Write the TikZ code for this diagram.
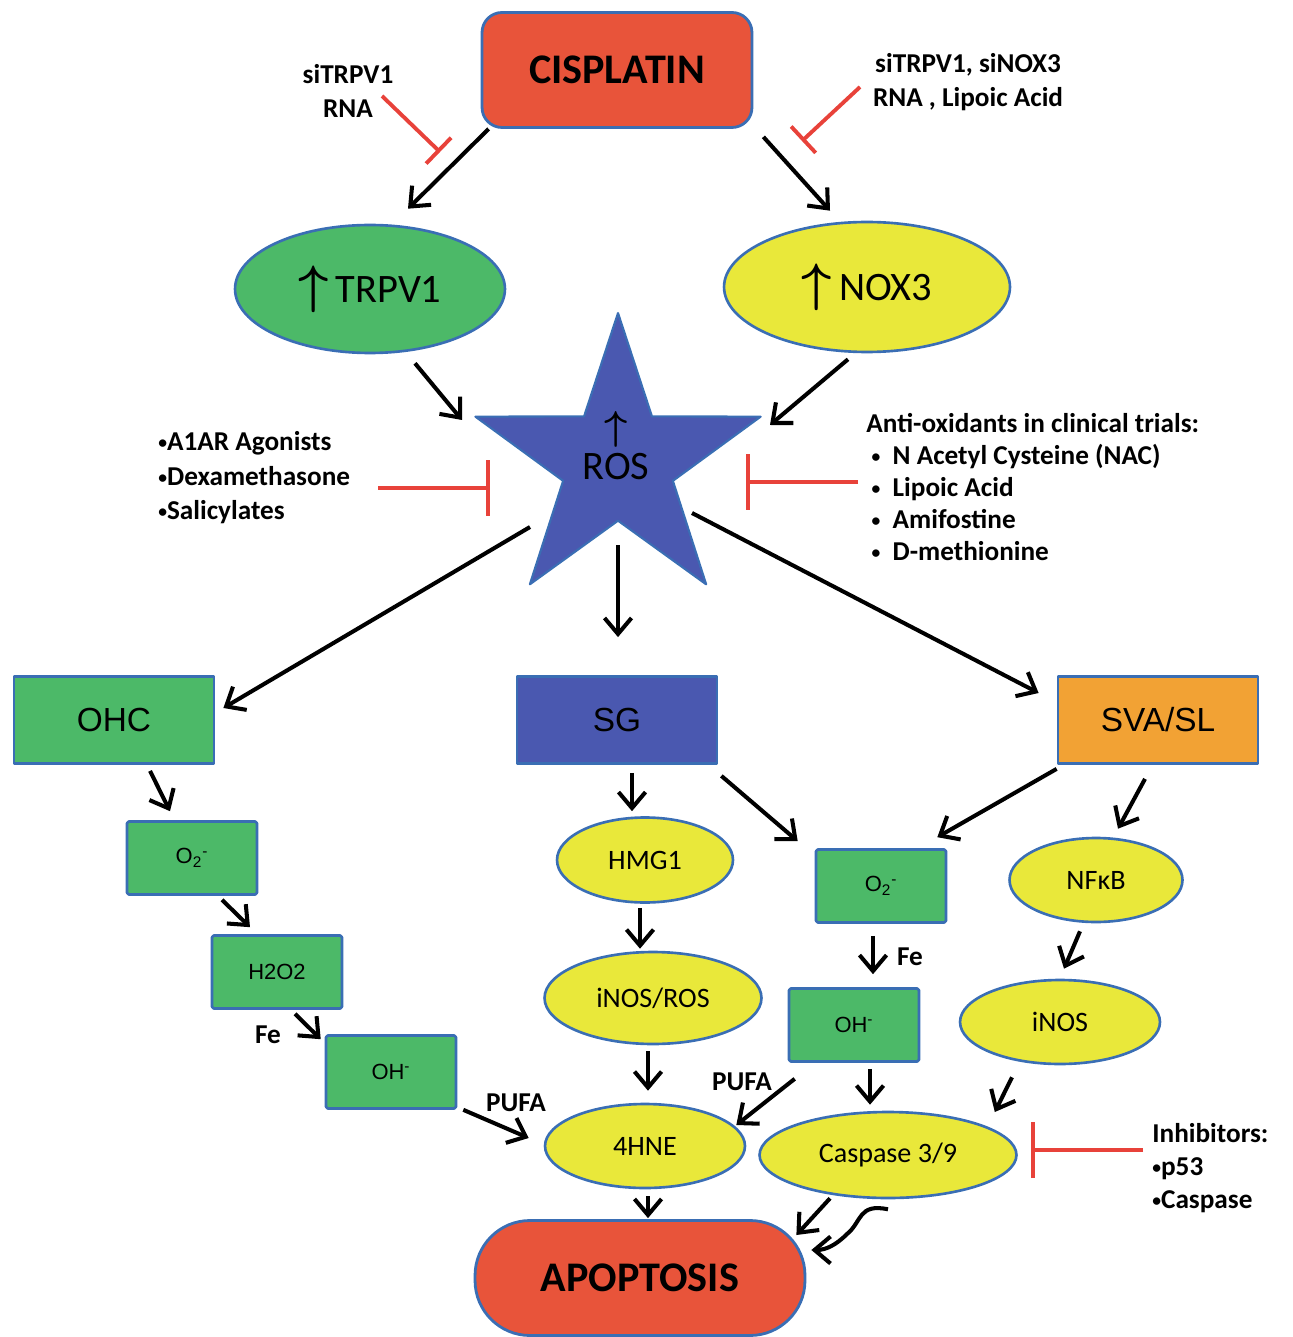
\documentclass[tikz,border=0pt]{standalone}
\usepackage{amsmath,amssymb}
\usepackage{graphicx}
\usepackage{fontspec}
\setmainfont{Carlito}
\newfontfamily\arialfont{Liberation Sans}
\usepackage{tikz}
\usetikzlibrary{shapes,arrows.meta,positioning,calc}
\usepackage{xcolor}
\definecolor{redfill}{RGB}{232, 84, 58}
\definecolor{inhred}{RGB}{232, 66, 58}
\definecolor{boxgreen}{RGB}{76, 185, 104}
\definecolor{boxyellow}{RGB}{233, 232, 58}
\definecolor{boxblue}{RGB}{74, 88, 176}
\definecolor{boxorange}{RGB}{242, 162, 52}
\definecolor{edgeblue}{RGB}{58, 110, 180}
\newcommand{\bigup}[1]{{\fontsize{10}{12}\selectfont\scalebox{#1}{$\boldsymbol{\uparrow}$}}}
\newcommand{\dotitem}{\raisebox{0.15ex}{\fontsize{10}{10}\selectfont•}}

\begin{document}
\begin{tikzpicture}[x=0.02cm, y=-0.02cm, >={Straight Barb[length=0.32cm,width=0.54cm]}, line join=round]
    \tikzstyle{bigbox} = [draw=edgeblue, line width=1.6pt, minimum width=4cm, minimum height=1.74cm, font=\arialfont\fontsize{19}{22}\selectfont]
    \tikzstyle{smallbox} = [draw=edgeblue, line width=1.5pt, fill=boxgreen, rounded corners=1pt, minimum width=2.6cm, minimum height=1.46cm, font=\arialfont\fontsize{12.5}{15}\selectfont]
    \tikzstyle{oval} = [ellipse, draw=edgeblue, line width=1.5pt, fill=boxyellow, inner sep=0pt, font=\fontsize{16}{19}\selectfont]
    \tikzstyle{endbox} = [draw=edgeblue, line width=1.6pt, fill=redfill, font=\bfseries\fontsize{24}{28}\selectfont]
    \tikzstyle{note} = [font=\bfseries\fontsize{15.5}{19}\selectfont, align=left, inner sep=0pt]
    \tikzstyle{arr} = [->, line width=2.3pt]
    \tikzstyle{inhibit} = [inhred, line width=2.2pt, -{Bar[width=1.12cm]}]
    \tikzstyle{inhibitsmall} = [inhred, line width=2.2pt, -{Bar[width=0.72cm]}]

    \useasboundingbox (0,0) rectangle (1293,1337);

    % top of the pathway
    \node [endbox, rounded corners=0.4cm, minimum width=5.4cm, minimum height=2.3cm] (cisplatin) at (617,70) {CISPLATIN};
    \node [oval, fill=boxgreen, minimum width=5.4cm, minimum height=2.56cm, font=\fontsize{23}{26}\selectfont] (trpv) at (370,289) {\bigup{3}\,TRPV1};
    \node [oval, minimum width=5.72cm, minimum height=2.6cm, font=\fontsize{23}{26}\selectfont] (nox) at (867,287) {\bigup{3}\,NOX3};
    \node [star, star points=5, star point ratio=2.6, draw=edgeblue, line width=1.2pt, fill=boxblue, minimum size=6cm, inner sep=0pt] (ros) at (618,463) {};
    \node [inner sep=0pt, font=\fontsize{23}{26}\selectfont, label={[inner sep=0pt, label distance=0.12cm]above:\bigup{2.3}}] (roslabel) at (616,467) {ROS};

    \node [note, align=center] (sitrpv) at (348,91) {siTRPV1\\RNA};
    \node [note, align=center] (sinox) at (968,82) {siTRPV1, siNOX3\\RNA , Lipoic Acid};
    \node [note, anchor=west, font=\bfseries\fontsize{15.5}{19.6}\selectfont] (protect) at (158,478) {\dotitem A1AR Agonists\\\dotitem Dexamethasone\\\dotitem Salicylates};
    \node [note, anchor=west, font=\bfseries\fontsize{15.5}{18.2}\selectfont] (antiox) at (866,487) {Anti-oxidants in clinical trials:\\\hspace{3pt}\dotitem\hspace{7pt}N Acetyl Cysteine (NAC)\\\hspace{3pt}\dotitem\hspace{7pt}Lipoic Acid\\\hspace{3pt}\dotitem\hspace{7pt}Amifostine\\\hspace{3pt}\dotitem\hspace{7pt}D-methionine};

    % cell types
    \node [bigbox, fill=boxgreen] (ohc) at (114,720) {OHC};
    \node [bigbox, fill=boxblue] (sg) at (617,720) {SG};
    \node [bigbox, fill=boxorange] (sva) at (1158,720) {SVA/SL};

    % OHC branch
    \node [smallbox] (otwoa) at (192,858) {O\textsubscript{2}\textsuperscript{-}};
    \node [smallbox] (hydro) at (277,972) {H2O2};
    \node [smallbox] (oha) at (391,1072) {OH\textsuperscript{-}};
    \node [note] (fea) at (268,1035) {Fe};
    \node [note] (pufaa) at (516,1103) {PUFA};

    % SG branch
    \node [oval, minimum width=3.52cm, minimum height=1.7cm] (hmg) at (645,860) {HMG1};
    \node [oval, minimum width=4.34cm, minimum height=1.84cm] (inosros) at (653,998) {iNOS/ROS};
    \node [oval, minimum width=4cm, minimum height=1.68cm] (hne) at (645,1146) {4HNE};
    \node [smallbox] (otwob) at (881,886) {O\textsubscript{2}\textsuperscript{-}};
    \node [smallbox] (ohb) at (854,1025) {OH\textsuperscript{-}};
    \node [note] (feb) at (910,957) {Fe};
    \node [note] (pufab) at (742,1082) {PUFA};

    % SVA/SL branch
    \node [oval, minimum width=3.46cm, minimum height=1.68cm] (nfkb) at (1096,880) {NFκB};
    \node [oval, minimum width=4cm, minimum height=1.68cm] (inos) at (1060,1022) {iNOS};
    \node [oval, minimum width=5.14cm, minimum height=1.72cm] (casp) at (888,1155) {Caspase 3/9};
    \node [note, anchor=west, font=\bfseries\fontsize{15.5}{19}\selectfont] (inhib) at (1152,1168) {Inhibitors:\\\dotitem p53\\\dotitem Caspase};

    \node [endbox, rounded corners=1.1cm, minimum width=6.6cm, minimum height=2.3cm] (apoptosis) at (640,1278) {APOPTOSIS};

    % inhibitor ends
    \coordinate (sitrpvfrom) at (382,96);
    \coordinate (sitrpvto) at (440,152);
    \coordinate (sinoxfrom) at (860,87);
    \coordinate (sinoxto) at (802,141);
    \coordinate (protectfrom) at (378,488);
    \coordinate (protectto) at (490,488);
    \coordinate (antioxfrom) at (858,482);
    \coordinate (antioxto) at (746,482);
    \coordinate (inhibfrom) at (1143,1150);
    \coordinate (inhibto) at (1031,1150);

    \draw [inhibitsmall] (sitrpvfrom) -- (sitrpvto);
    \draw [inhibitsmall] (sinoxfrom) -- (sinoxto);
    \draw [inhibit] (protectfrom) -- (protectto);
    \draw [inhibit] (antioxfrom) -- (antioxto);
    \draw [inhibit] (inhibfrom) -- (inhibto);

    % arrows
    \draw [arr] ([shift={(8,0)}]cisplatin.south west) -- ([shift={(38,-15)}]trpv.north);
    \draw [arr] ([shift={(10,8)}]cisplatin.south east) -- ([shift={(-37,-10)}]nox.north);
    \draw [arr] ([shift={(45,9)}]trpv.south) -- ([shift={(-156,-43)}]ros.center);
    \draw [arr] ([shift={(-19,6)}]nox.south) -- ([shift={(152,-38)}]ros.center);
    \draw [arr] ([shift={(-88,64)}]ros.center) -- ([shift={(8,-12)}]ohc.east);
    \draw [arr] ([shift={(0,82)}]ros.center) -- ([shift={(1,-38)}]sg.north);
    \draw [arr] ([shift={(74,50)}]ros.center) -- ([shift={(-18,-27)}]sva.west);

    \draw [arr] ([shift={(36,6)}]ohc.south) -- ([shift={(-22,-9)}]otwoa.north);
    \draw [arr] ([shift={(30,4)}]otwoa.south) -- ([shift={(-27,-7)}]hydro.north);
    \draw [arr] ([shift={(18,4)}]hydro.south) -- ([shift={(-4,5)}]oha.north west);
    \draw [arr] ([shift={(6,0)}]oha.south east) -- ([shift={(-15,-8)}]hne.west);

    \draw [arr] ([shift={(15,8)}]sg.south) -- ([shift={(-13,-5)}]hmg.north);
    \draw [arr] ([shift={(3,11)}]sg.south east) -- ([shift={(-17,-7)}]otwob.north west);
    \draw [arr] ([shift={(-5,4)}]hmg.south) -- ([shift={(-13,-2)}]inosros.north);
    \draw [arr] ([shift={(-5,6)}]inosros.south) -- ([shift={(3,-12)}]hne.north);
    \draw [arr] ([shift={(7,16)}]ohb.south west) -- ([shift={(-10,-21)}]hne.east);
    \draw [arr] ([shift={(-8,12)}]otwob.south) -- ([shift={(19,-13)}]ohb.north);
    \draw [arr] ([shift={(16,6)}]ohb.south) -- ([shift={(-18,-6)}]casp.north);

    \draw [arr] ([shift={(0,4)}]sva.south west) -- ([shift={(-10,-11)}]otwob.north east);
    \draw [arr] ([shift={(-13,14)}]sva.south) -- ([shift={(22,-8)}]nfkb.north);
    \draw [arr] ([shift={(-16,8)}]nfkb.south) -- ([shift={(4,-10)}]inos.north);
    \draw [arr] ([shift={(-48,12)}]inos.south) -- ([shift={(-23,-43)}]casp.east);

    \draw [arr] ([shift={(3,7)}]hne.south) -- ([shift={(8,-1)}]apoptosis.north);
    \draw [arr] ([shift={(-58,-1)}]casp.south) -- ([shift={(-10,-43)}]apoptosis.east);
    \draw [arr] ([shift={(0,10)}]casp.south) .. controls (858,1203) and (862,1222) .. (847,1234) .. controls (836,1245) and (826,1250) .. ([shift={(5,-28)}]apoptosis.east);
  \end{tikzpicture}
\end{document}
